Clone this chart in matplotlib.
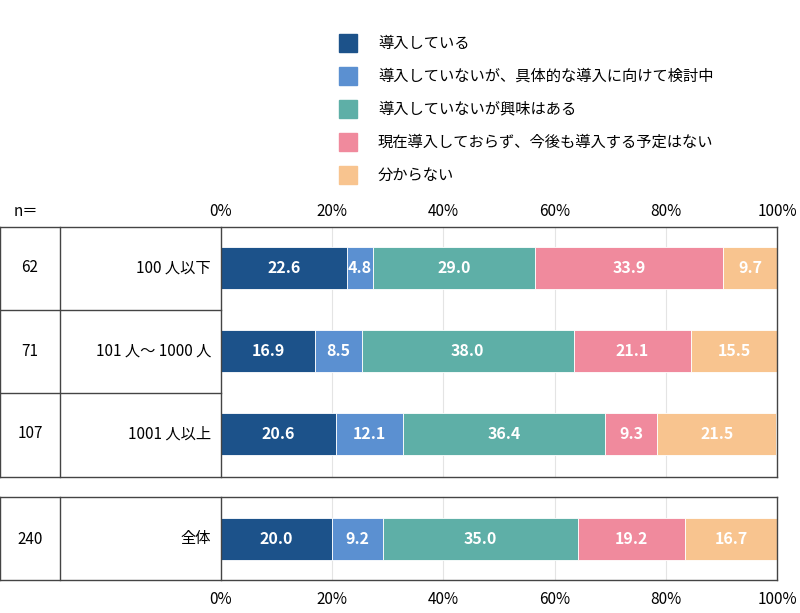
import numpy as np
import matplotlib
matplotlib.use("Agg")
import matplotlib.pyplot as plt
from matplotlib.lines import Line2D
from matplotlib.patches import Rectangle

plt.rcParams['font.family'] = ['Noto Sans CJK JP', 'DejaVu Sans']

##data
categories = ["100 人以下", "101 人～ 1000 人", "1001 人以上", "全体"]
n_values = ["62", "71", "107", "240"]
series_names = ["導入している", "導入していないが、具体的な導入に向けて検討中",
                "導入していないが興味はある", "現在導入しておらず、今後も導入する予定はない",
                "分からない"]
values = [
    [22.6, 4.8, 29.0, 33.9, 9.7],
    [16.9, 8.5, 38.0, 21.1, 15.5],
    [20.6, 12.1, 36.4, 9.3, 21.5],
    [20.0, 9.2, 35.0, 19.2, 16.7],
]
colors = ["#1c528a", "#5b90d1", "#5eafa7", "#f08a9d", "#f8c48f"]
ticks = [0, 20, 40, 60, 80, 100]

W, H = 800, 613
fig = plt.figure(figsize=(8, 6.13), dpi=100)

def fx(px):
    return px / W
def fy(py):
    return 1 - py / H

#bar axes (y in pixel units)
top, bot = 227, 580
ax = fig.add_axes([fx(221), fy(bot), fx(777) - fx(221), fy(top) - fy(bot)])
ax.set_xlim(0, 100)
ax.set_ylim(bot, top)
ax.axis("off")
centers = [268, 351, 434, 539]
for c in ticks[1:-1]:
    ax.plot([c, c], [227, 477], color="#e4e4e4", lw=0.8, zorder=0)
    ax.plot([c, c], [497, 580], color="#e4e4e4", lw=0.8, zorder=0)
for row, yc in zip(values, centers):
    left = 0
    for v, col in zip(row, colors):
        ax.barh(yc, v, left=left, height=42, color=col, edgecolor="white", linewidth=0.6)
        ax.text(left + v / 2, yc, f"{v:.1f}", ha="center", va="center",
                color="white", fontsize=11.5, fontweight="bold")
        left += v

#table frame
def line(x0, y0, x1, y1):
    fig.add_artist(Line2D([fx(x0), fx(x1)], [fy(y0), fy(y1)], color="#444444", lw=1))

for g0, g1 in [(227, 477), (497, 580)]:
    line(0, g0, 777, g0)
    line(0, g1, 777, g1)
    line(0, g0, 0, g1)
    line(60, g0, 60, g1)
    line(221, g0, 221, g1)
    line(777, g0, 777, g1)
for ys in [310, 393]:
    line(0, ys, 221, ys)

for lab, nv, yc in zip(categories, n_values, centers):
    fig.text(fx(30), fy(yc), nv, ha="center", va="center", fontsize=11)
    fig.text(fx(211), fy(yc), lab, ha="right", va="center", fontsize=11)
fig.text(fx(14), fy(211), "n＝", ha="left", va="center", fontsize=11)
for t in ticks:
    x = 221 + t * 5.56
    fig.text(fx(x), fy(211), f"{t}%", ha="center", va="center", fontsize=11)
    fig.text(fx(x), fy(600), f"{t}%", ha="center", va="center", fontsize=11)

#legend
for i, (name, col) in enumerate(zip(series_names, colors)):
    yy = 43 + 33 * i
    fig.add_artist(Rectangle((fx(339), fy(yy + 9)), 18 / W, 18 / H, color=col,
                             transform=fig.transFigure))
    fig.text(fx(378), fy(yy), name, ha="left", va="center", fontsize=11)

fig.savefig("out.png", dpi=100)
